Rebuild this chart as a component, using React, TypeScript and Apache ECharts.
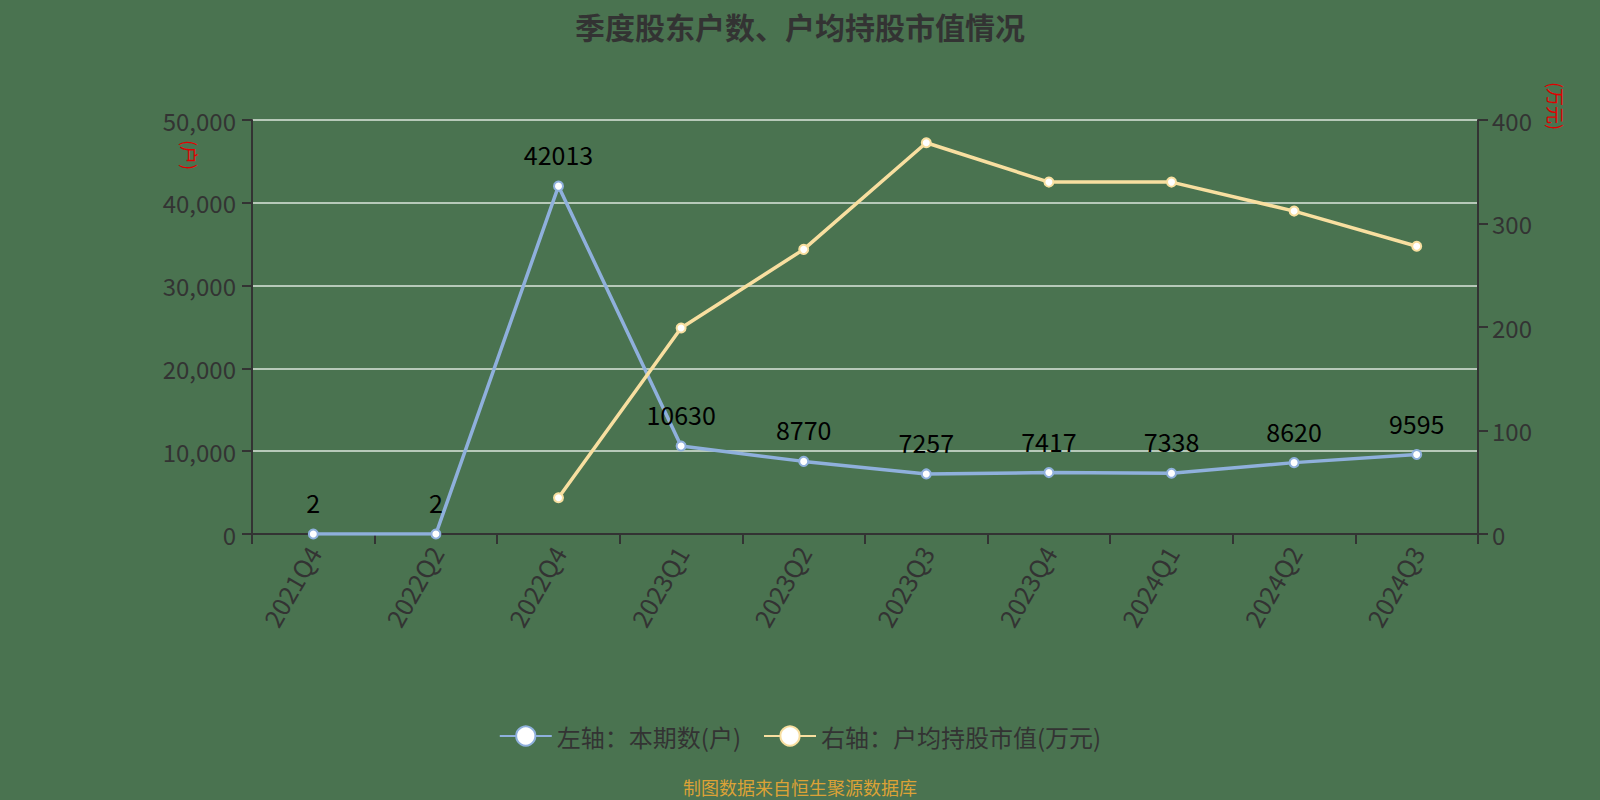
import { useEffect, useRef } from "react";
import * as echarts from "echarts";

const categories = [
  "2021Q4",
  "2022Q2",
  "2022Q4",
  "2023Q1",
  "2023Q2",
  "2023Q3",
  "2023Q4",
  "2024Q1",
  "2024Q2",
  "2024Q3",
];
const holders = [2, 2, 42013, 10630, 8770, 7257, 7417, 7338, 8620, 9595];
const avgValue = [null, null, 35, 199, 275, 378, 340, 340, 312, 278];

const leftTicks = { min: 0, max: 50000, interval: 10000 };
const rightTicks = { min: 0, max: 400, interval: 100 };

const FONT = "'Noto Sans CJK SC', 'Noto Sans', sans-serif";

export default function App() {
  const chartRef = useRef<HTMLDivElement>(null);

  useEffect(() => {
    document.body.style.margin = "0";
    if (!chartRef.current) return;
    const chart = echarts.init(chartRef.current, undefined, { renderer: "svg" });

    const option: echarts.EChartsOption = {
      animation: false,
      backgroundColor: "#4a7350",
      textStyle: { fontFamily: FONT },
      title: {
        text: "季度股东户数、户均持股市值情况",
        left: "center",
        top: 6,
        textStyle: { fontSize: 30, fontWeight: "bold", color: "#333", fontFamily: FONT },
      },
      grid: { left: 252, right: 122, top: 120, bottom: 266 },
      legend: {
        top: 719,
        left: "center",
        itemWidth: 52,
        itemHeight: 24,
        itemGap: 22,
        textStyle: { fontSize: 24, color: "#333", fontFamily: FONT },
        data: ["左轴：本期数(户)", "右轴：户均持股市值(万元)"],
      },
      graphic: [
        {
          type: "text",
          x: 190,
          y: 155,
          rotation: -Math.PI / 2,
          style: {
            text: "(户)",
            fill: "#e00000",
            fontSize: 18,
            fontFamily: FONT,
            align: "center",
            verticalAlign: "middle",
          },
        },
        {
          type: "text",
          x: 1556,
          y: 106,
          rotation: -Math.PI / 2,
          style: {
            text: "(万元)",
            fill: "#e00000",
            fontSize: 18,
            fontFamily: FONT,
            align: "center",
            verticalAlign: "middle",
          },
        },
        {
          type: "text",
          left: "center",
          top: 778,
          style: {
            text: "制图数据来自恒生聚源数据库",
            fill: "#dca236",
            fontSize: 18,
            fontFamily: FONT,
          },
        },
      ],
      xAxis: {
        type: "category",
        data: categories,
        boundaryGap: true,
        axisLine: { lineStyle: { color: "#333", width: 2 } },
        axisTick: { show: true, length: 10, lineStyle: { color: "#333", width: 2 } },
        axisLabel: { rotate: 60, fontSize: 25, color: "#333", margin: 14 },
      },
      yAxis: [
        {
          type: "value",
          ...leftTicks,
          axisLine: { show: true, lineStyle: { color: "#333", width: 2 } },
          axisTick: { show: true, length: 10, lineStyle: { color: "#333", width: 2 } },
          axisLabel: {
            fontSize: 24,
            color: "#333",
            margin: 16,
            formatter: (v: number) => v.toLocaleString("en-US"),
          },
          splitLine: { lineStyle: { color: "#dde6dd", width: 1.5 } },
        },
        {
          type: "value",
          ...rightTicks,
          axisLine: { show: true, lineStyle: { color: "#333", width: 2 } },
          axisTick: { show: true, length: 10, lineStyle: { color: "#333", width: 2 } },
          axisLabel: { fontSize: 24, color: "#333", margin: 14 },
          splitLine: { show: false },
        },
      ],
      series: [
        {
          name: "左轴：本期数(户)",
          type: "line",
          yAxisIndex: 0,
          data: holders,
          symbol: "emptyCircle",
          symbolSize: 9,
          lineStyle: { color: "#8fb0dc", width: 3.5 },
          itemStyle: { color: "#8fb0dc", borderWidth: 2 },
          label: {
            show: true,
            position: "top",
            distance: 14,
            fontSize: 25,
            color: "#000",
            fontFamily: FONT,
          },
        },
        {
          name: "右轴：户均持股市值(万元)",
          type: "line",
          yAxisIndex: 1,
          data: avgValue,
          symbol: "emptyCircle",
          symbolSize: 9,
          lineStyle: { color: "#f8dfa0", width: 3.5 },
          itemStyle: { color: "#f8dfa0", borderWidth: 2 },
        },
      ],
    };

    chart.setOption(option);
    return () => chart.dispose();
  }, []);

  return <div ref={chartRef} style={{ width: 1600, height: 800 }} />;
}
